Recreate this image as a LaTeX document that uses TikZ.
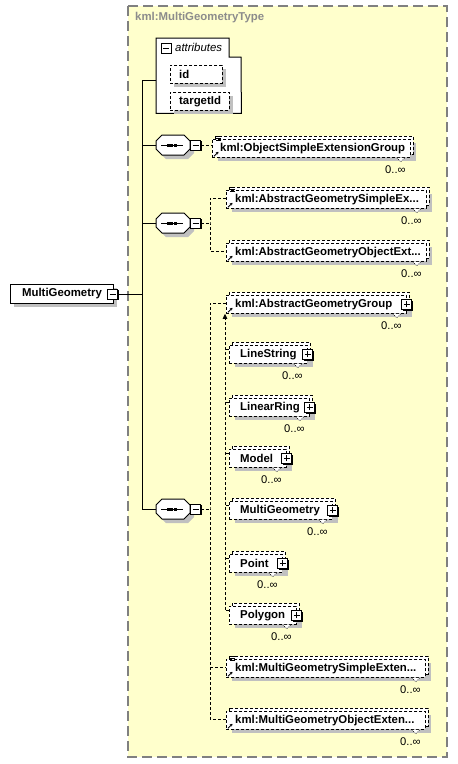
\documentclass[tikz,border=0pt]{standalone}
\usepackage{fontspec}
\setmainfont{Liberation Sans}
\usetikzlibrary{arrows.meta}
\definecolor{bgyellow}{RGB}{255,255,204}
\definecolor{shgray}{RGB}{192,192,192}
\definecolor{ttlgray}{RGB}{140,140,140}
\definecolor{bordgray}{RGB}{128,128,128}
\tikzset{
  edash/.style={draw=black, line width=0.8pt, dash pattern=on 3pt off 2pt},
  elem/.style={edash, fill=white, minimum height=18, inner sep=0, anchor=north west},
  lbl/.style={font=\fontsize{11.4}{13}\selectfont\bfseries, inner sep=0, text=black},
  mult/.style={font=\fontsize{11.2}{13}\selectfont, inner sep=0, anchor=east},
  pm/.style={draw=black, fill=white, line width=0.8pt, minimum size=10, inner sep=0},
  conn/.style={line width=1pt},
  dconn/.style={line width=0.8pt, dash pattern=on 3pt off 2pt},
  ghost/.style={inner sep=0, minimum width=34, minimum height=20}
}
\newcommand\elembox[6]{%
  \fill[shgray] (#2+6,#3+4) rectangle (#2+#4+6,#3+22);
  \draw[edash, fill=white] (#2+3,#3-3) rectangle (#2+#4+3,#3+15);
  \node[elem, minimum width=#4] (#1) at (#2,#3) {};
  \node[lbl, anchor=west] (#1t) at ([xshift=#6pt]#1.west) {#5};
  \fill[white] ([xshift=-14pt]#1.south east) -- ([xshift=-6pt]#1.south east) -- ([shift={(-10pt,-4pt)}]#1.south east) -- cycle;
  \draw[line width=0.5pt, dash pattern=on 1pt off 1pt] ([xshift=-14pt]#1.south east) -- ([shift={(-10pt,-4pt)}]#1.south east) -- ([xshift=-6pt]#1.south east);
  \node[mult] (#1m) at ([shift={(-5pt,-12pt)}]#1.south east) {0..∞};
}
\newcommand\pmshadow[1]{%
  \fill[black] ([shift={(-3.8pt,-6.2pt)}]#1) rectangle ([shift={(6.2pt,3.8pt)}]#1);}
\newcommand\minusat[2]{%
  \pmshadow{#2}
  \node[pm] (#1) at (#2) {};
  \draw[line width=1pt] ([xshift=-3pt]#1.center) -- ([xshift=3pt]#1.center);}
\newcommand\plusat[2]{%
  \pmshadow{#2}
  \node[pm] (#1) at (#2) {};
  \draw[line width=1pt] ([xshift=-3pt]#1.center) -- ([xshift=3pt]#1.center);
  \draw[line width=1pt] ([yshift=-3pt]#1.center) -- ([yshift=3pt]#1.center);}
\newcommand\refarrow[1]{%
  \draw[line width=0.9pt, -{Stealth[length=2.5pt,width=3pt]}] ([shift={(2pt,1.5pt)}]#1.south west) -- ([shift={(6.5pt,6pt)}]#1.south west);}
\newcommand\simplelines[1]{%
  \foreach \d in {-1,1,3} \draw[line width=0.7pt] ([shift={(4pt,\d pt)}]#1.north west) -- ([shift={(9pt,\d pt)}]#1.north west);}
\newcommand\seqshape[3]{%
  \begin{scope}[shift={(#2+4,#3+4)}]
    \fill[shgray] (-17,-4) -- (-11,-10) -- (11,-10) -- (17,-4) -- (17,4) -- (11,10) -- (-11,10) -- (-17,4) -- cycle;
  \end{scope}
  \begin{scope}[shift={(#2,#3)}]
    \draw[line width=1pt, fill=white] (-17,-4) -- (-11,-10) -- (11,-10) -- (17,-4) -- (17,4) -- (11,10) -- (-11,10) -- (-17,4) -- cycle;
    \draw[line width=1pt] (-12,0) -- (10,0);
    \foreach \q in {-5,-1.5,2} \fill (\q-1.5,-1.5) rectangle (\q+1.5,1.5);
  \end{scope}
  \node[ghost] (#1) at (#2,#3) {};
  \minusat{#1m}{#2+22.5,#3}}
\begin{document}
\begin{tikzpicture}[x=1pt, y=-1pt]
\useasboundingbox (0,0) rectangle (458,764);
% background type box
\draw[fill=bgyellow, draw=bordgray, line width=1.5pt, dash pattern=on 10pt off 5pt] (128,6) rectangle (447,757);
\node[lbl, text=ttlgray, anchor=west] (title) at (135,18) {kml:MultiGeometryType};

% attributes
\node[inner sep=0, minimum width=85, minimum height=75, anchor=north west] (attr) at (156,38) {};
\draw[line width=1pt, fill=white] (attr.north west) -- (229,38) -- (229,57) -- (241,57) -- (attr.south east) -- (attr.south west) -- cycle;
\minusat{attrm}{166,48}
\node[font=\fontsize{11.4}{13}\selectfont\itshape, inner sep=0, anchor=west] (attrt) at (175,47.5) {attributes};
\fill[shgray] (174,69) rectangle (226,87);
\node[elem, minimum width=52] (aid) at (170,65) {};
\node[lbl, anchor=west] (aidt) at ([xshift=9pt]aid.west) {id};
\fill[shgray] (174,96) rectangle (233,114);
\node[elem, minimum width=59] (atid) at (170,92) {};
\node[lbl, anchor=west] (atidt) at ([xshift=9pt]atid.west) {targetId};

% left element
\fill[shgray] (14,288) rectangle (117,307);
\node[lbl, draw, line width=1pt, fill=white, minimum width=103, minimum height=19, anchor=north west] (mgl) at (10,284) {MultiGeometry};
\minusat{mgm}{112.5,294}

% sequences
\seqshape{s1}{173}{145}
\seqshape{s2}{173}{223}
\seqshape{s3}{173}{509}

% elements
\elembox{E1}{212}{139}{198}{kml:ObjectSimpleExtensionGroup}{8}
\elembox{E2}{226}{190}{200}{kml:AbstractGeometrySimpleEx...}{9}
\elembox{E3}{226}{243}{200}{kml:AbstractGeometryObjectExt...}{9}
\elembox{E4}{226}{295}{180}{kml:AbstractGeometryGroup}{9}
\elembox{E5}{229}{345}{78}{LineString}{11}
\elembox{E6}{229}{398}{80}{LinearRing}{11}
\elembox{E7}{229}{449}{57}{Model}{11}
\elembox{E8}{229}{501}{103}{MultiGeometry}{11}
\elembox{E9}{229}{554}{53}{Point}{11}
\elembox{E10}{229}{606}{67}{Polygon}{11}
\elembox{E11}{226}{659}{199}{kml:MultiGeometrySimpleExten...}{9}
\elembox{E12}{226}{711}{199}{kml:MultiGeometryObjectExten...}{9}

\foreach \e in {E1,E2,E11} {\simplelines{\e}}
\foreach \e in {E1,E2,E3,E4,E11,E12} {\refarrow{\e}}
\foreach \e in {E4,E5,E6,E7,E8,E9,E10} {\plusat{\e p}{\e.east}}

% trunk connectors
\coordinate (trunk) at (142,80);
\draw[conn] (attr.west |- trunk) -- (trunk) -- (trunk |- s3.west) -- (s3.west);
\draw[conn] (trunk |- s1.west) -- (s1.west);
\draw[conn] (trunk |- s2.west) -- (s2.west);
\draw[conn] (mgm.east) -- (trunk |- mgm.east);

% sequence 1
\draw[dconn] (s1m.east) -- (s1m.east -| E1.west);

% sequence 2
\coordinate (b2) at (210,223);
\draw[dconn] (s2m.east) -- (b2);
\draw[dconn] ([yshift=1.5pt]E2.west) -| (b2) |- ([yshift=1.5pt]E3.west);

% sequence 3
\coordinate (b3) at (210,509);
\draw[dconn] (s3m.east) -- (b3);
\draw[dconn] ([yshift=1.5pt]E4.west) -| (b3) |- ([yshift=1.5pt]E12.west);
\draw[dconn] (b3 |- E11.west) ++(0,-1.5) -- ([yshift=1.5pt]E11.west);

% substitution group
\coordinate (subtop) at ([xshift=-1pt]E4.south west);
\path (E10.north west) ++(-4,4) coordinate (subbot);
\draw[dconn, -{Triangle[length=5pt,width=4.5pt]}] (subbot) -- (subtop);
\foreach \e in {E5,E6,E7,E8,E9,E10} {\draw[dconn] (\e.north west) ++(0,4) -- ++(-4,0);}
\end{tikzpicture}
\end{document}
